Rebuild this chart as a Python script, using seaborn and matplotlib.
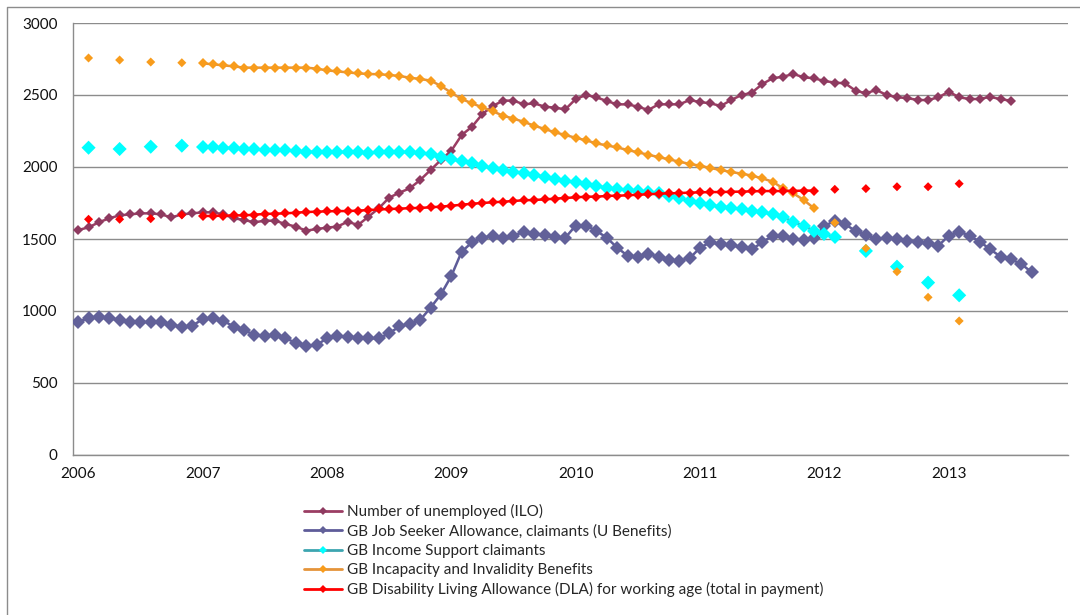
import numpy as np
import pandas as pd
import matplotlib
matplotlib.use('Agg')
import matplotlib.pyplot as plt
from matplotlib.lines import Line2D
import seaborn as sns

# values in thousands
ilo_start='2006-01'
ilo=[1562, 1581, 1616, 1644, 1664, 1671, 1678, 1678, 1671, 1650, 1671, 1678,
     1685, 1685, 1671, 1644, 1632, 1616, 1627, 1627, 1604, 1586, 1558, 1569,
     1579, 1586, 1620, 1597, 1655, 1713, 1787, 1822, 1852, 1910, 1979, 2049,
     2113, 2222, 2280, 2368, 2424, 2461, 2461, 2435, 2442, 2419, 2412, 2400,
     2472, 2500, 2484, 2458, 2435, 2435, 2419, 2396, 2435, 2435, 2435, 2465,
     2451, 2442, 2424, 2465, 2500, 2516, 2576, 2616, 2627, 2646, 2623, 2616,
     2597, 2586, 2581, 2530, 2512, 2535, 2500, 2484, 2479, 2465, 2465, 2484,
     2523, 2484, 2472, 2472, 2488, 2470, 2461]

jsa_start='2006-01'
jsa=[926, 949, 956, 949, 938, 921, 926, 921, 921, 903, 891, 898,
     942, 949, 933, 891, 868, 833, 826, 833, 810, 780, 759, 764,
     810, 826, 822, 815, 810, 810, 845, 893, 912, 938, 1023, 1116,
     1243, 1412, 1477, 1509, 1521, 1505, 1521, 1551, 1535, 1528, 1516, 1509,
     1593, 1593, 1556, 1509, 1440, 1384, 1377, 1396, 1377, 1354, 1350, 1366,
     1440, 1477, 1463, 1458, 1442, 1428, 1477, 1523, 1523, 1500, 1493, 1509,
     1590, 1627, 1602, 1556, 1528, 1500, 1505, 1500, 1488, 1481, 1470, 1454,
     1523, 1551, 1523, 1481, 1428, 1377, 1359, 1326, 1269]

is_start='2007-01'
income_support=[2141, 2137, 2134, 2130, 2125, 2123, 2120, 2118, 2116, 2113, 2106, 2104,
                2104, 2104, 2104, 2104, 2099, 2102, 2104, 2106, 2102, 2095, 2088, 2072,
                2053, 2042, 2025, 2007, 1991, 1979, 1968, 1956, 1944, 1933, 1915, 1903,
                1894, 1880, 1868, 1856, 1847, 1842, 1836, 1826, 1817, 1800, 1782, 1765,
                1748, 1735, 1725, 1718, 1706, 1694, 1685, 1674, 1651, 1620, 1590, 1558,
                1535, 1512]
is_q_dates=['2006-02', '2006-05', '2006-08', '2006-11', '2012-05', '2012-08', '2012-11', '2013-02']
is_q=[2134, 2125, 2141, 2148, 1417, 1308, 1197, 1109]

ib_start='2007-01'
incapacity=[2720, 2713, 2706, 2699, 2690, 2690, 2690, 2690, 2690, 2690, 2690, 2683,
            2671, 2664, 2657, 2650, 2646, 2644, 2639, 2632, 2620, 2611, 2600, 2563,
            2516, 2472, 2442, 2414, 2387, 2356, 2336, 2313, 2287, 2264, 2241, 2222,
            2203, 2185, 2164, 2150, 2136, 2118, 2102, 2085, 2069, 2053, 2037, 2021,
            2009, 1993, 1979, 1965, 1954, 1940, 1921, 1898, 1852, 1817, 1771, 1713]
ib_q_dates=['2006-02', '2006-05', '2006-08', '2006-11', '2012-02', '2012-05', '2012-08', '2012-11', '2013-02']
ib_q=[2757, 2743, 2729, 2724, 1613, 1435, 1273, 1095, 931]

dla_start='2007-01'
dla=[1660, 1660, 1662, 1664, 1664, 1669, 1674, 1676, 1678, 1683, 1687, 1690,
     1692, 1694, 1694, 1697, 1701, 1705, 1708, 1711, 1714, 1716, 1720, 1725,
     1731, 1738, 1745, 1750, 1755, 1759, 1764, 1769, 1771, 1775, 1780, 1785,
     1789, 1794, 1794, 1799, 1801, 1803, 1808, 1810, 1815, 1817, 1819, 1822,
     1824, 1826, 1826, 1828, 1829, 1831, 1833, 1833, 1833, 1834, 1836, 1836]
dla_q_dates=['2006-02', '2006-05', '2006-08', '2006-11', '2012-02', '2012-05', '2012-08', '2012-11', '2013-02']
dla_q=[1637, 1637, 1641, 1667, 1845, 1850, 1863, 1863, 1884]

years=['2006', '2007', '2008', '2009', '2010', '2011', '2012', '2013']
labels=['Number of unemployed (ILO)',
        'GB Job Seeker Allowance, claimants (U Benefits)',
        'GB Income Support claimants',
        'GB Incapacity and Invalidity Benefits',
        'GB Disability Living Allowance (DLA) for working age (total in payment)']


def month_idx(dates):
    d=pd.PeriodIndex(dates, freq='M')
    return np.asarray((d.year-2006)*12+d.month-1)


def monthly(start, vals):
    dates=pd.period_range(start, periods=len(vals), freq='M').astype(str)
    return pd.DataFrame({'m': month_idx(dates), 'v': vals})


sns.set_style('white')
plt.rcParams['font.family']=['Lato', 'DejaVu Sans']

fig=plt.figure(figsize=(10.8, 6.15), dpi=100)
ax=fig.add_axes([73/1080, 1-455/615, 995/1080, 432/615])

# marker colour, line colour, marker size
styles=[('#8E3A60', '#9B3D63', 4.8),
        ('#626199', '#5E5C99', 7.2),
        ('#00FFFF', '#3CA5B0', 7.2),
        ('#F89C1C', '#E5943A', 4.6),
        ('#FF0000', '#FF0000', 4.6)]

lines=[(ilo_start, ilo), (jsa_start, jsa), (is_start, income_support),
       (ib_start, incapacity), (dla_start, dla)]
points=[None, None, (is_q_dates, is_q), (ib_q_dates, ib_q), (dla_q_dates, dla_q)]

for i, ((start, vals), pts) in enumerate(zip(lines, points)):
    mc, lc, ms=styles[i]
    df=monthly(start, vals)
    sns.lineplot(data=df, x='m', y='v', ax=ax, color=lc, linewidth=1.8,
                 marker='D', markersize=ms, markerfacecolor=mc,
                 markeredgecolor=mc, markeredgewidth=0, zorder=3+i)
    if pts is not None:
        sns.scatterplot(x=month_idx(pts[0]), y=pts[1], ax=ax, color=mc,
                        marker='D', s=ms**2, edgecolor='none', zorder=3+i)

ax.set_xlim(-0.5, 95.5)
ax.set_ylim(0, 3000)
ax.set_yticks(np.arange(0, 3001, 500))
ax.set_xticks(month_idx([y+'-01' for y in years]))
ax.set_xticklabels(years)
ax.set_xticks(np.arange(-0.5, 96, 1), minor=True)
ax.set_xlabel('')
ax.set_ylabel('')
ax.grid(axis='y', color='#8c8c8c', linewidth=1)
ax.set_axisbelow(True)
for s in ['top', 'right']:
    ax.spines[s].set_visible(False)
for s in ['left', 'bottom']:
    ax.spines[s].set_color('#8c8c8c')
    ax.spines[s].set_linewidth(1)
ax.tick_params(axis='x', which='major', length=0, pad=9, labelsize=11, colors='#111111')
ax.tick_params(axis='x', which='minor', length=5, width=1, color='#8c8c8c', direction='out')
ax.tick_params(axis='y', length=6, width=1, color='#8c8c8c', pad=5, labelsize=11, colors='#111111')

handles=[Line2D([0], [0], color=styles[i][1], linewidth=2, marker='D',
                markersize=4.5, markerfacecolor=styles[i][0], markeredgewidth=0)
         for i in range(5)]
fig.legend(handles, labels, loc='upper left', bbox_to_anchor=(298/1080, 1-498/615),
           frameon=False, fontsize=11, handlelength=2.5, handletextpad=0.3,
           labelspacing=0.34, borderaxespad=0)

# chart border (top and left edges visible)
fig.add_artist(Line2D([7/1080, 7/1080, 1], [0, 1-7/615, 1-7/615],
                      transform=fig.transFigure, color='#8c8c8c', linewidth=1))

plt.savefig('out.png', dpi=100)
plt.close()
